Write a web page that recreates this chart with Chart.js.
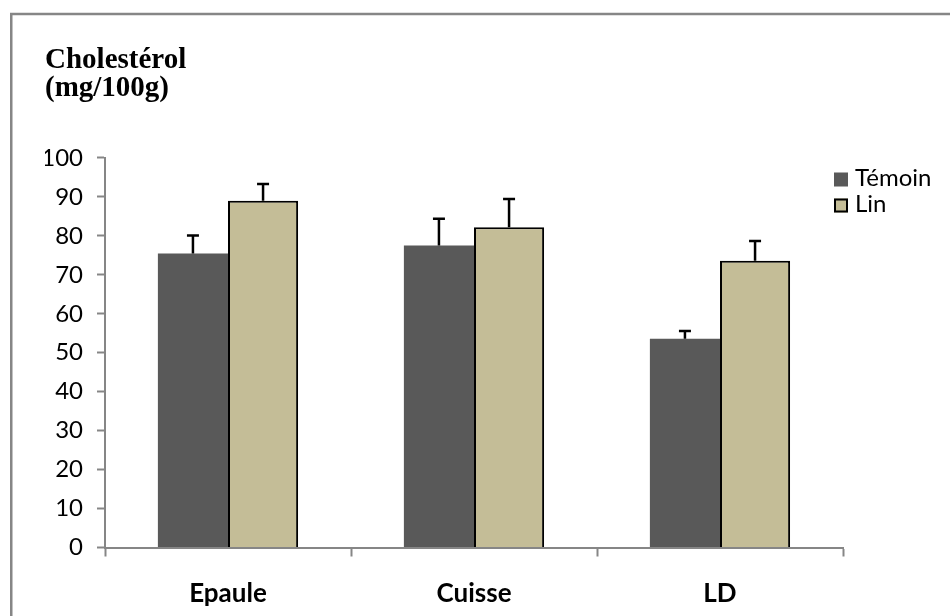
<!DOCTYPE html>
<html>
<head>
<meta charset="utf-8">
<script src="https://cdn.jsdelivr.net/npm/chart.js@4/dist/chart.umd.min.js"></script>
<style>
  html, body { margin: 0; padding: 0; background: #fff; overflow: hidden; }
  #wrap { position: relative; width: 950px; height: 616px; }
</style>
</head>
<body>
<div id="wrap"><canvas id="c" width="950" height="616"></canvas></div>
<script>
// Cholesterol content per cut (mg/100g), control vs linseed diet
const categories = ['Epaule', 'Cuisse', 'LD'];
const temoin = [75.5, 77.5, 53.6];
const lin = [89.0, 82.2, 73.6];
const temoinErr = [4.6, 6.9, 2.0];
const linErr = [4.3, 7.3, 5.1];
const yTicks = [0, 10, 20, 30, 40, 50, 60, 70, 80, 90, 100];

const AXIS_GRAY = '#868686';
const TEMOIN_FILL = '#595959';
const LIN_FILL = '#C4BD97';

// Outer frame around the whole figure
const framePlugin = {
  id: 'frame',
  beforeDraw(chart) {
    const ctx = chart.ctx;
    ctx.save();
    ctx.fillStyle = '#fff';
    ctx.fillRect(0, 0, chart.width, chart.height);
    ctx.strokeStyle = AXIS_GRAY;
    ctx.lineWidth = 2.5;
    ctx.strokeRect(11.25, 14, chart.width + 50, chart.height + 50);
    ctx.restore();
  }
};

// Upward error bars with caps, from each dataset's errors array
const errorBarPlugin = {
  id: 'errorBars',
  afterDatasetsDraw(chart) {
    const ctx = chart.ctx;
    const y = chart.scales.y;
    ctx.save();
    ctx.strokeStyle = '#000';
    ctx.lineWidth = 2.5;
    chart.data.datasets.forEach((ds, di) => {
      const meta = chart.getDatasetMeta(di);
      meta.data.forEach((bar, i) => {
        const v = ds.data[i];
        const e = ds.errors[i];
        const yTop = y.getPixelForValue(v);
        const yCap = y.getPixelForValue(v + e);
        ctx.beginPath();
        ctx.moveTo(bar.x, yTop);
        ctx.lineTo(bar.x, yCap);
        ctx.moveTo(bar.x - 6, yCap);
        ctx.lineTo(bar.x + 6, yCap);
        ctx.stroke();
      });
    });
    ctx.restore();
  }
};

// Legend drawn to the right of the plot, next to its top
const sideLegendPlugin = {
  id: 'sideLegend',
  afterDraw(chart) {
    const ctx = chart.ctx;
    const x0 = 834;
    const rows = [172.5, 198.5];
    ctx.save();
    ctx.font = '24px Lato';
    ctx.textBaseline = 'middle';
    ctx.textAlign = 'left';
    chart.data.datasets.forEach((ds, i) => {
      const top = rows[i];
      ctx.fillStyle = ds.backgroundColor;
      ctx.fillRect(x0, top, 14, 14);
      if (ds.borderWidth) {
        ctx.strokeStyle = ds.borderColor;
        ctx.lineWidth = 2;
        ctx.strokeRect(x0 + 1, top + 1, 12, 12);
      }
      ctx.fillStyle = '#000';
      ctx.fillText(ds.label, x0 + 21, top + 6);
    });
    ctx.restore();
  }
};

new Chart(document.getElementById('c'), {
  type: 'bar',
  data: {
    labels: categories,
    datasets: [
      {
        label: 'Témoin',
        data: temoin,
        errors: temoinErr,
        backgroundColor: TEMOIN_FILL,
        borderWidth: 0,
        categoryPercentage: 0.57,
        barPercentage: 1.0
      },
      {
        label: 'Lin',
        data: lin,
        errors: linErr,
        backgroundColor: LIN_FILL,
        borderColor: '#000',
        borderWidth: 2,
        categoryPercentage: 0.57,
        barPercentage: 1.0
      }
    ]
  },
  options: {
    responsive: false,
    animation: false,
    devicePixelRatio: 1,
    layout: { padding: { left: 45, right: 107, top: 0, bottom: 0 } },
    plugins: {
      legend: { display: false },
      tooltip: { enabled: false },
      title: {
        display: true,
        text: ['Cholestérol', '(mg/100g)'],
        align: 'start',
        color: '#000',
        font: { family: '"Liberation Serif", "Times New Roman", serif', size: 29, weight: 'bold', lineHeight: 0.96 },
        padding: { top: 47, bottom: 55.3 }
      }
    },
    scales: {
      x: {
        grid: {
          display: true,
          drawOnChartArea: false,
          drawTicks: true,
          tickLength: 9,
          tickWidth: 2,
          tickColor: AXIS_GRAY,
          offset: true
        },
        border: { display: true, color: AXIS_GRAY, width: 2 },
        ticks: {
          color: '#000',
          font: { family: 'Lato', size: 26, weight: 'bold' },
          padding: 22
        },
        afterFit(scale) { scale.height = 68.5; }
      },
      y: {
        min: 0,
        max: 100,
        afterBuildTicks(scale) { scale.ticks = yTicks.map(v => ({ value: v })); },
        grid: {
          display: true,
          drawOnChartArea: false,
          drawTicks: true,
          tickLength: 8,
          tickWidth: 2,
          tickColor: AXIS_GRAY
        },
        border: { display: true, color: AXIS_GRAY, width: 2 },
        ticks: {
          color: '#000',
          font: { family: 'Lato', size: 24 },
          padding: 14
        },
        afterFit(scale) { scale.width = 60; }
      }
    }
  },
  plugins: [framePlugin, errorBarPlugin, sideLegendPlugin]
});
</script>
</body>
</html>
